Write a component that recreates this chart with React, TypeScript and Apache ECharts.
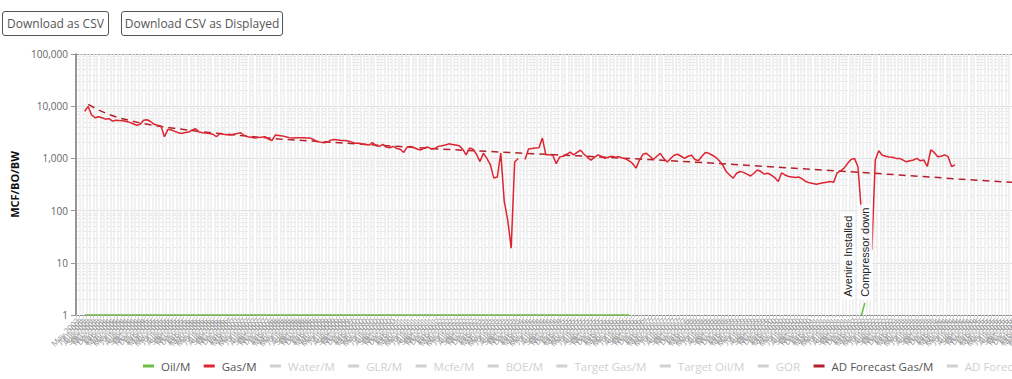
import React, { useEffect, useRef } from 'react';
import * as echarts from 'echarts';

// ---------- data ----------
const MONTHS = ['Jan', 'Feb', 'Mar', 'Apr', 'May', 'Jun', 'Jul', 'Aug', 'Sep', 'Oct', 'Nov', 'Dec'];
const START_YEAR = 2003;
const START_MONTH = 4; // May
const CATEGORY_COUNT = 278;
const categories: string[] = [];
for (let i = 0; i < CATEGORY_COUNT; i++) {
  const m = START_MONTH + i;
  categories.push(`${MONTHS[m % 12]} ${START_YEAR + Math.floor(m / 12)}`);
}

const yAxisTicks = [1, 10, 100, 1000, 10000, 100000];

const gasStart = 2;
const gasValues: (number | null)[] = [
  8000, 9900, 6800, 6000, 6300, 6000, 5650, 5800, 5200, 5400, 5300, 5250, 5100, 4900, 4600, 4300, 4500, 5400, 5500,
  5100, 4500, 4300, 4200, 2600, 3600, 3500, 3300, 3100, 3000, 3150, 3200, 3500, 3700, 3200, 3100, 3050, 3000, 2900,
  2600, 3000, 2900, 2850, 2800, 2900, 3000, 3100, 2750, 2600, 2550, 2450, 2500, 2550, 2600, 2350, 2200, 2800, 2750,
  2700, 2600, 2500, 2450, 2480, 2500, 2480, 2460, 2450, 2300, 2100, 2050, 2000, 2050, 2250, 2300, 2250, 2200, 2200,
  2150, 2050, 1950, 1950,
  1900, 1850, 1800, 2000, 1750, 1700, 1850, 1650, 1600, 1700, 1550, 1500, 1300, 1650, 1700, 1600, 1500, 1450, 1600,
  1650, 1500, 1550, 1700,
  1750, 1800, 1900, 1850, 1800, 1750, 1500, 1170, 1580, 1500, 1200, 870, 1260, 1000, 750, 420, 440, 1260, 150, 66,
  19, 850, 1000, null, 950, 1520, 1550, 1580, 1600, 2450, 1170, 1170, 1150, 790, 1070, 1100, 1200, 1320, 1170, 1300,
  1440, 1200, 1050, 930, 1050, 1170, 1100, 1000, 1050, 1100, 1050, 1080, 1020, 980, 900, 800, 650, 930,
  1200, 1250, 1100, 950, 1100, 1250, 1000, 850, 1000, 1150, 1200, 1100, 1000, 1100, 1150, 950, 900, 1100, 1300, 1250,
  1150, 1050, 900, 750, 560, 480, 420, 520, 560, 540, 500, 460, 520, 600, 560, 500, 520, 480, 430, 360, 530, 480,
  450, 440, 430, 440, 400, 360, 340, 330, 320, 330, 340, 350, 360, 350, 530, 580, 650, 800, 950, 1000, 690, 94, 60,
  30, 17.6, 930, 1400, 1150, 1100, 1060, 1050, 1000, 1000, 930, 860, 900, 930, 1000, 900, 930, 700, 1450, 1300, 1080,
  1100, 1170, 1080, 700, 750,
];

const oilStart = 2;
const oilValues: number[] = [
  1, 1, 1, 1, 1, 1, 1, 1, 1, 1, 1, 1, 1, 1, 1, 1, 1, 1, 1, 1, 1, 1, 1, 1, 1, 1, 1, 1, 1, 1, 1, 1, 1, 1, 1, 1, 1, 1, 1, 1,
  1, 1, 1, 1, 1, 1, 1, 1, 1, 1, 1, 1, 1, 1, 1, 1, 1, 1, 1, 1, 1, 1, 1, 1, 1, 1, 1, 1, 1, 1, 1, 1, 1, 1, 1, 1, 1, 1, 1, 1,
  1, 1, 1, 1, 1, 1, 1, 1, 1, 1, 1, 1, 1, 1, 1, 1, 1, 1, 1, 1, 1, 1, 1, 1, 1, 1, 1, 1, 1, 1, 1, 1, 1, 1, 1, 1, 1, 1, 1, 1,
  1, 1, 1, 1, 1, 1, 1, 1, 1, 1, 1, 1, 1, 1, 1, 1, 1, 1, 1, 1, 1, 1, 1, 1, 1, 1, 1, 1, 1, 1, 1, 1, 1, 1, 1, 1, 1, 1,
];
const oilSpikeStart = 226;
const oilSpikeValues = [1, 1.7];

const forecastPoints: [number, number][] = [
  [3, 10800], [6, 8460], [9, 6940], [12, 5940], [18, 4770], [24, 4080], [35, 3275], [47, 2745], [58, 2353],
  [70, 2108], [81, 1888], [93, 1690], [104, 1514], [119, 1356], [133, 1214], [148, 1087], [162, 974], [180, 834],
  [203, 670], [226, 537], [237, 481], [254, 403], [277, 323],
];

const annotations = [
  { index: 222, value: 1.95, text: 'Avenire Installed' },
  { index: 227, value: 1.95, text: 'Compressor down' },
];

const legendNames = [
  'Oil/M', 'Gas/M', 'Water/M', 'GLR/M', 'Mcfe/M', 'BOE/M', 'Target Gas/M', 'Target Oil/M', 'GOR',
  'AD Forecast Gas/M', 'AD Forecast Oil/M',
];
const hiddenSeries = ['Water/M', 'GLR/M', 'Mcfe/M', 'BOE/M', 'Target Gas/M', 'Target Oil/M', 'GOR', 'AD Forecast Oil/M'];

// ---------- helpers ----------
function placeRuns(runs: { start: number; values: (number | null)[] }[]) {
  const out: (number | null)[] = categories.map(() => null);
  runs.forEach((r) => r.values.forEach((v, k) => { out[r.start + k] = v; }));
  return out;
}

const FONT = '"Open Sans", sans-serif';

export default function App() {
  const ref = useRef<HTMLDivElement>(null);

  useEffect(() => {
    if (!ref.current) return;
    const chart = echarts.init(ref.current, undefined, { renderer: 'svg' });

    const gasData = placeRuns([{ start: gasStart, values: gasValues }]);
    const oilData = placeRuns([
      { start: oilStart, values: oilValues },
      { start: oilSpikeStart, values: oilSpikeValues },
    ]);
    const forecastData = placeRuns(forecastPoints.map(([i, v]) => ({ start: i, values: [v] })));

    const selected: Record<string, boolean> = {};
    hiddenSeries.forEach((n) => { selected[n] = false; });

    const hidden = hiddenSeries.map((name) => ({
      name, type: 'line', data: [] as number[], symbol: 'none', lineStyle: { color: '#999' }, itemStyle: { color: '#999' },
    }));

    chart.setOption({
      animation: false,
      textStyle: { fontFamily: FONT },
      legend: {
        data: legendNames,
        selected,
        left: 138,
        top: 315,
        itemWidth: 11,
        itemHeight: 3,
        itemGap: 13.4,
        icon: 'rect',
        textStyle: { fontSize: 11.5, color: '#555', fontFamily: FONT, padding: [0, 0, 0, 2] },
        inactiveColor: '#d0d0d0',
      },
      grid: { left: 76, top: 14, width: 964, height: 261, show: true, borderWidth: 0, backgroundColor: '#ffffff' },
      xAxis: {
        type: 'category',
        data: categories,
        boundaryGap: true,
        axisLine: { show: true, lineStyle: { color: '#888', width: 1 } },
        axisTick: { show: true, interval: 0, length: 3, lineStyle: { color: '#d0d0d0' } },
        axisLabel: { interval: 0, rotate: 45, fontSize: 8, color: '#9a9a9a', margin: 4 },
        splitLine: { show: true, interval: 0, lineStyle: { color: '#ececec', width: 1.5 } },
      },
      yAxis: {
        type: 'log',
        logBase: 10,
        min: yAxisTicks[0],
        max: yAxisTicks[yAxisTicks.length - 1],
        name: 'MCF/BO/BW',
        nameLocation: 'middle',
        nameGap: 50,
        nameTextStyle: { fontSize: 11, fontWeight: 'bold', color: '#111', fontFamily: FONT },
        axisLine: { show: true, lineStyle: { color: '#777', width: 1.5 } },
        axisTick: { show: true, length: 5, lineStyle: { color: '#999' } },
        axisLabel: {
          fontSize: 10, color: '#666', margin: 8,
          formatter: (v: number) => Math.round(v).toLocaleString('en-US'),
        },
        splitLine: { show: true, lineStyle: { color: ['#dcdcdc', '#dcdcdc', '#dcdcdc', '#dcdcdc', '#dcdcdc', '#999'], width: 1 } },
        minorTick: { show: false, splitNumber: 9 },
        minorSplitLine: { show: true, lineStyle: { color: '#e6e6e6', type: 'dashed', width: 1 } },
      },
      series: [
        {
          name: 'Oil/M', type: 'line', data: oilData, symbol: 'none', connectNulls: false,
          lineStyle: { color: '#6abf45', width: 1.5 }, itemStyle: { color: '#6abf45' },
        },
        {
          name: 'Gas/M', type: 'line', data: gasData, symbol: 'none', connectNulls: false, z: 3,
          lineStyle: { color: '#dd2430', width: 1.5 }, itemStyle: { color: '#dd2430' },
          markPoint: {
            symbol: 'rect', symbolSize: 1, itemStyle: { color: 'rgba(0,0,0,0)' },
            data: annotations.map((a) => ({
              coord: [categories[a.index], a.value],
              label: {
                show: true, formatter: a.text, position: 'inside', rotate: 90, align: 'left', verticalAlign: 'middle',
                color: '#222', fontSize: 11, fontFamily: '"Liberation Sans", Arial, sans-serif',
                backgroundColor: 'rgba(255,255,255,0.9)', padding: [2, 3],
              },
            })),
          },
        },
        ...hidden.slice(0, 7),
        {
          name: 'AD Forecast Gas/M', type: 'line', data: forecastData, symbol: 'none', connectNulls: true, z: 2,
          lineStyle: { color: '#b3202c', width: 1.5, type: [7, 5] }, itemStyle: { color: '#b3202c' },
        },
        hidden[7],
      ],
    });

    return () => chart.dispose();
  }, []);

  const btn: React.CSSProperties = {
    position: 'absolute', top: 11, height: 25, background: '#fff', border: '1px solid #555', borderRadius: 3,
    fontFamily: FONT, fontSize: 12, color: '#555', padding: 0, boxSizing: 'border-box', cursor: 'pointer',
  };

  return (
    <div style={{ position: 'fixed', left: 0, top: 0, width: '100vw', height: '100vh', overflow: 'hidden', background: '#fff' }}>
      <button style={{ ...btn, left: 2, width: 107 }}>Download as CSV</button>
      <button style={{ ...btn, left: 121, width: 162 }}>Download CSV as Displayed</button>
      <div ref={ref} style={{ position: 'absolute', left: 0, top: 40, width: 1100, height: 339 }} />
    </div>
  );
}
